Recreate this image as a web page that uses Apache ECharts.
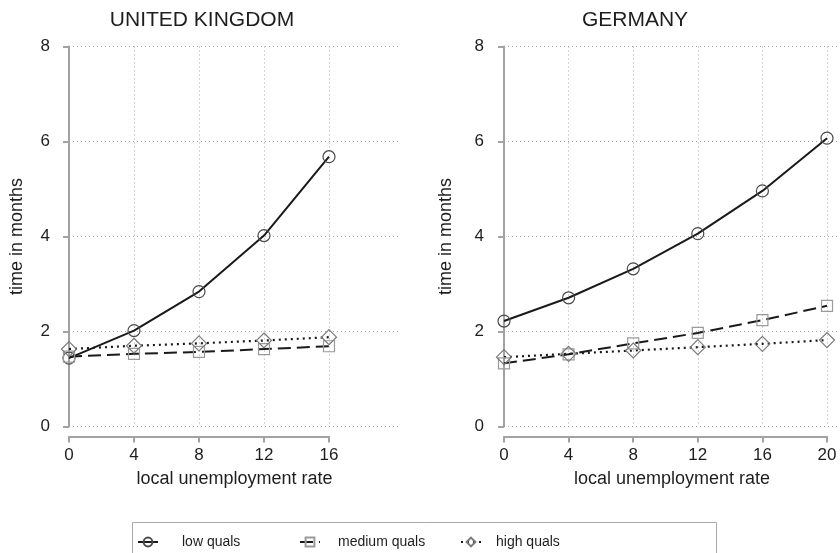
<!DOCTYPE html>
<html>
<head>
<meta charset="utf-8">
<script src="https://cdn.jsdelivr.net/npm/echarts@6/dist/echarts.min.js"></script>
<style>
  html, body { margin: 0; padding: 0; background: #fff; }
  #chart { width: 840px; height: 553px; }
</style>
</head>
<body>
<div id="chart"></div>
<script>
// Local unemployment rate (x) for each country panel
const ukRates = [0, 4, 8, 12, 16];
const deRates = [0, 4, 8, 12, 16, 20];

// Predicted time in months, by qualification level
const ukLow    = [1.44, 2.02, 2.84, 4.02, 5.68];
const ukMedium = [1.47, 1.53, 1.57, 1.63, 1.69];
const ukHigh   = [1.63, 1.70, 1.75, 1.81, 1.88];

const deLow    = [2.22, 2.71, 3.32, 4.06, 4.96, 6.07];
const deMedium = [1.33, 1.52, 1.75, 1.97, 2.24, 2.54];
const deHigh   = [1.46, 1.53, 1.60, 1.67, 1.74, 1.82];

const panelTitles = ['UNITED KINGDOM', 'GERMANY'];
const groupNames = ['low quals', 'medium quals', 'high quals'];
const xTitle = 'local unemployment rate';
const yTitle = 'time in months';

const FONT = "'Liberation Sans', Arial, Helvetica, sans-serif";
const TEXT = '#1e1e1e';
const AXIS = '#a2a2a2';
const GRIDC = '#a8a8a8';
const INK = '#1a1a1a';

const pairs = (xs, ys) => xs.map((x, i) => [x, ys[i]]);

// Shared grid geometry
const TOP = 46.5, H = 380;

// Axis with visible line, ticks and labels (data grids)
function mainX(grid, max) {
  return {
    type: 'value', gridIndex: grid, min: 0, max: max, interval: 4,
    offset: 10,
    axisLine: { show: true, onZero: false, lineStyle: { color: AXIS, width: 2 } },
    axisTick: { show: true, inside: false, length: 6, lineStyle: { color: AXIS, width: 2 } },
    axisLabel: { color: TEXT, fontSize: 17, fontFamily: FONT, margin: 10 },
    splitLine: { show: true, lineStyle: { color: GRIDC, type: [1, 3], width: 1 } }
  };
}
function mainY(grid, offset, labelMargin) {
  return {
    type: 'value', gridIndex: grid, min: 0, max: 8, interval: 2,
    offset: offset,
    axisLine: { show: true, lineStyle: { color: AXIS, width: 2 } },
    axisTick: { show: true, inside: false, length: 6, lineStyle: { color: AXIS, width: 2 } },
    axisLabel: { color: TEXT, fontSize: 17, fontFamily: FONT, margin: labelMargin },
    splitLine: { show: false },
    name: yTitle, nameLocation: 'middle', nameGap: 34 + offset - 9,
    nameTextStyle: { color: TEXT, fontSize: 18, fontFamily: FONT }
  };
}
// Backdrop axes: full-width horizontal gridlines and the centred x title
function backX(grid) {
  return {
    type: 'value', gridIndex: grid, min: 0, max: 1,
    axisLine: { show: false }, axisTick: { show: false },
    axisLabel: { show: false }, splitLine: { show: false },
    name: xTitle, nameLocation: 'middle', nameGap: 44,
    nameTextStyle: { color: TEXT, fontSize: 18, fontFamily: FONT }
  };
}
function backY(grid) {
  return {
    type: 'value', gridIndex: grid, min: 0, max: 8, interval: 2,
    axisLine: { show: false }, axisTick: { show: false },
    axisLabel: { show: false },
    splitLine: { show: true, lineStyle: { color: GRIDC, type: [1, 3], width: 1 } }
  };
}

const styles = {
  'low quals':    { symbol: 'circle',  symbolSize: 12, border: '#4a4a4a', line: { color: INK, width: 2, type: 'solid' } },
  'medium quals': { symbol: 'rect',    symbolSize: 11, border: '#9a9a9a', line: { color: INK, width: 2, type: [13, 6] } },
  'high quals':   { symbol: 'diamond', symbolSize: 15, border: '#7a7a7a', line: { color: INK, width: 2.2, type: [2, 4] } }
};

function makeSeries(name, xs, ys, xi, yi) {
  const s = styles[name];
  return {
    type: 'line', name: name, xAxisIndex: xi, yAxisIndex: yi,
    data: pairs(xs, ys),
    symbol: s.symbol, symbolSize: s.symbolSize, showSymbol: true,
    lineStyle: s.line,
    itemStyle: { color: 'rgba(255,255,255,0)', borderColor: s.border, borderWidth: 1.2 },
    emphasis: { disabled: true },
    animation: false, z: 3
  };
}

const series = [
  makeSeries(groupNames[0], ukRates, ukLow, 0, 0),
  makeSeries(groupNames[1], ukRates, ukMedium, 0, 0),
  makeSeries(groupNames[2], ukRates, ukHigh, 0, 0),
  makeSeries(groupNames[0], deRates, deLow, 2, 2),
  makeSeries(groupNames[1], deRates, deMedium, 2, 2),
  makeSeries(groupNames[2], deRates, deHigh, 2, 2)
];

// One legend per entry so each key sits at its own spot in the box
const legendSlots = [
  { left: 137, pad: 19 },
  { left: 299, pad: 13 },
  { left: 460, pad: 10 }
];
const legends = groupNames.map((n, i) => ({
  data: [n], left: legendSlots[i].left, top: 535,
  orient: 'horizontal', itemWidth: 20, itemHeight: 11, padding: 0,
  selectedMode: false,
  textStyle: { color: TEXT, fontSize: 14, fontFamily: FONT, padding: [0, 0, 0, legendSlots[i].pad] }
}));

const chart = echarts.init(document.getElementById('chart'), null, { renderer: 'canvas' });
chart.setOption({
  animation: false,
  backgroundColor: '#fff',
  grid: [
    { left: 69, top: TOP, width: 260, height: H },
    { left: 69, top: TOP, width: 331, height: H },
    { left: 504, top: TOP, width: 323, height: H },
    { left: 504, top: TOP, width: 336, height: H }
  ],
  xAxis: [mainX(0, 16), backX(1), mainX(2, 20), backX(3)],
  yAxis: [mainY(0, 9, 10), backY(1), mainY(2, 12, 8), backY(3)],
  legend: legends,
  graphic: [
    { type: 'text', x: 202, y: 20, style: { text: panelTitles[0], textAlign: 'center', textVerticalAlign: 'middle', font: '21px ' + FONT, fill: TEXT } },
    { type: 'text', x: 635, y: 20, style: { text: panelTitles[1], textAlign: 'center', textVerticalAlign: 'middle', font: '21px ' + FONT, fill: TEXT } },
    { type: 'rect', shape: { x: 132.5, y: 522.5, width: 584, height: 60 }, style: { fill: 'none', stroke: '#a8a8a8', lineWidth: 1 }, silent: true }
  ],
  series: series
});
</script>
</body>
</html>
